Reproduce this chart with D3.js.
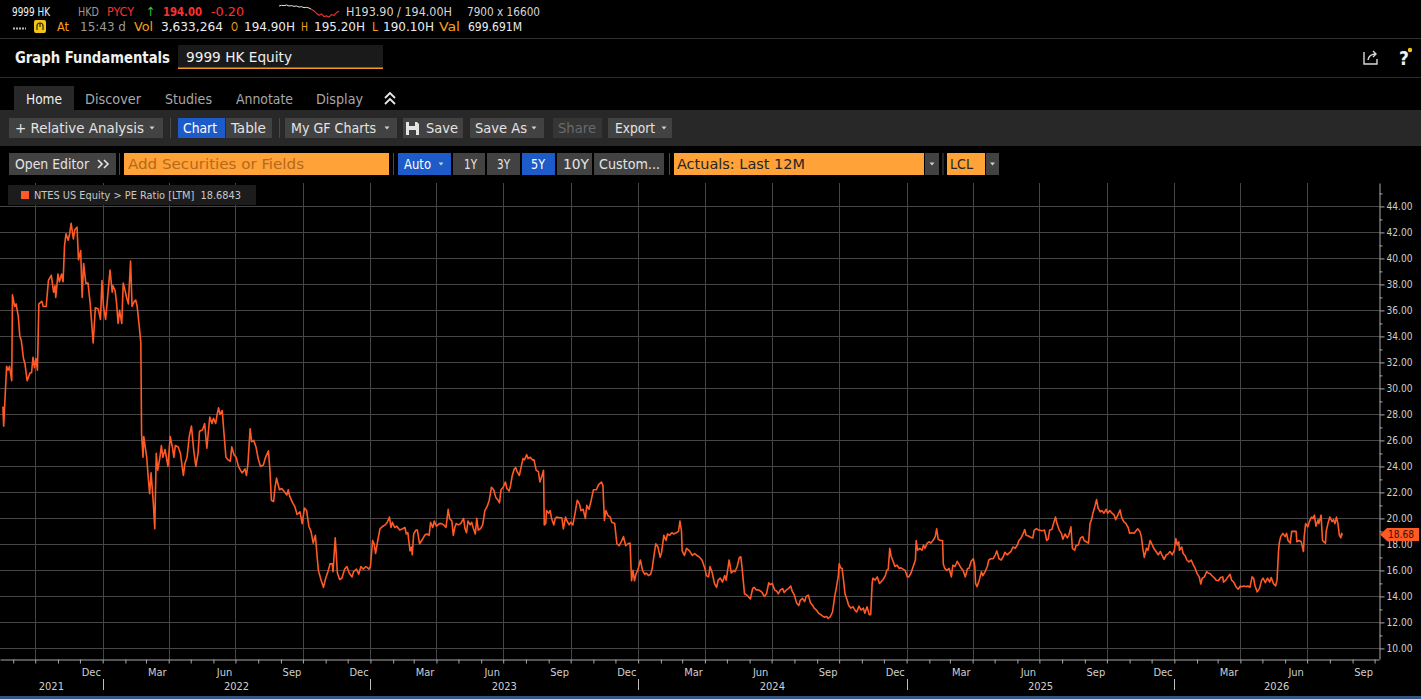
<!DOCTYPE html>
<html>
<head>
<meta charset="utf-8">
<script src="https://cdn.jsdelivr.net/npm/d3@7"></script>
<style>
  html, body { margin: 0; padding: 0; background: #000; overflow: hidden; }
  svg text { font-family: "DejaVu Sans Condensed", "Liberation Sans Narrow", "DejaVu Sans", sans-serif; font-stretch: condensed; white-space: pre; }
</style>
</head>
<body>
<svg id="gf"></svg>
<script>
// PE ratio [LTM], by year
var pe2021 = [["2021-08-18",28.6],["2021-08-19",27.1],["2021-08-23",31.7],["2021-08-25",31.4],["2021-08-27",31.7],["2021-08-30",30.6],["2021-08-31",37.2],["2021-09-03",36.3],["2021-09-05",36.5],["2021-09-08",35.5],["2021-09-10",34.0],["2021-09-12",33.7],["2021-09-15",32.3],["2021-09-17",31.9],["2021-09-20",30.6],["2021-09-24",31.2],["2021-09-26",31.2],["2021-09-28",32.4],["2021-09-30",31.6],["2021-10-02",32.3],["2021-10-04",31.4],["2021-10-06",36.5],["2021-10-10",36.7],["2021-10-12",36.3],["2021-10-16",36.3],["2021-10-19",38.3],["2021-10-23",38.7],["2021-10-26",37.4],["2021-10-28",37.9],["2021-10-29",37.0],["2021-11-01",38.8],["2021-11-03",38.2],["2021-11-06",38.8],["2021-11-08",38.2],["2021-11-10",41.0],["2021-11-12",41.9],["2021-11-15",41.4],["2021-11-17",41.9],["2021-11-19",42.7],["2021-11-22",41.5],["2021-11-24",42.2],["2021-11-27",42.4],["2021-11-29",39.9],["2021-12-02",40.6],["2021-12-04",37.0],["2021-12-06",39.6],["2021-12-09",38.1],["2021-12-12",38.1],["2021-12-15",36.5],["2021-12-19",33.5],["2021-12-22",36.2],["2021-12-26",36.1],["2021-12-29",35.3],["2021-12-31",38.3]];

var pe2022 = [["2022-01-02",36.3],["2022-01-05",35.3],["2022-01-08",37.2],["2022-01-11",39.1],["2022-01-14",37.4],["2022-01-15",37.9],["2022-01-18",37.5],["2022-01-20",36.5],["2022-01-22",35.0],["2022-01-24",36.0],["2022-01-27",35.0],["2022-01-29",38.1],["2022-02-01",37.4],["2022-02-03",36.9],["2022-02-05",36.5],["2022-02-08",39.8],["2022-02-10",36.3],["2022-02-13",36.7],["2022-02-15",36.8],["2022-02-17",36.3],["2022-02-20",34.7],["2022-02-22",33.5],["2022-02-23",26.5],["2022-02-25",24.7],["2022-02-26",26.3],["2022-03-02",24.7],["2022-03-04",23.2],["2022-03-06",21.9],["2022-03-08",23.5],["2022-03-11",21.2],["2022-03-13",19.2],["2022-03-15",25.0],["2022-03-17",23.7],["2022-03-20",24.7],["2022-03-22",25.6],["2022-03-24",24.7],["2022-03-27",25.3],["2022-03-31",24.0],["2022-04-03",26.3],["2022-04-06",25.5],["2022-04-08",24.7],["2022-04-10",25.6],["2022-04-14",25.5],["2022-04-17",25.0],["2022-04-21",23.3],["2022-04-23",24.2],["2022-04-26",24.7],["2022-04-29",26.3],["2022-05-02",27.1],["2022-05-05",25.3],["2022-05-08",24.0],["2022-05-11",25.0],["2022-05-13",26.7],["2022-05-17",26.8],["2022-05-20",27.3],["2022-05-23",25.4],["2022-05-27",27.8],["2022-05-30",27.3],["2022-06-01",27.7],["2022-06-04",27.3],["2022-06-06",28.0],["2022-06-08",28.5],["2022-06-10",28.0],["2022-06-13",28.3],["2022-06-15",26.8],["2022-06-18",24.7],["2022-06-21",24.5],["2022-06-24",24.4],["2022-06-26",25.5],["2022-06-29",24.9],["2022-07-02",24.7],["2022-07-05",24.0],["2022-07-08",23.7],["2022-07-10",23.5],["2022-07-14",23.8],["2022-07-16",23.3],["2022-07-18",24.2],["2022-07-21",26.9],["2022-07-23",25.9],["2022-07-26",26.0],["2022-07-29",25.5],["2022-08-01",24.6],["2022-08-04",24.0],["2022-08-08",24.1],["2022-08-11",24.7],["2022-08-15",25.2],["2022-08-17",23.7],["2022-08-19",21.4],["2022-08-22",21.3],["2022-08-24",22.4],["2022-08-26",23.1],["2022-08-30",22.2],["2022-09-02",22.3],["2022-09-05",22.1],["2022-09-09",21.8],["2022-09-11",22.2],["2022-09-13",21.7],["2022-09-17",21.2],["2022-09-20",20.9],["2022-09-23",20.3],["2022-09-27",20.5],["2022-09-30",19.6],["2022-10-03",20.8],["2022-10-06",20.6],["2022-10-09",19.4],["2022-10-12",19.0],["2022-10-15",18.1],["2022-10-18",18.7],["2022-10-20",17.3],["2022-10-22",16.0],["2022-10-26",15.2],["2022-10-29",14.7],["2022-11-01",15.4],["2022-11-04",15.9],["2022-11-07",16.5],["2022-11-10",16.5],["2022-11-11",15.9],["2022-11-14",18.5],["2022-11-17",15.8],["2022-11-20",15.3],["2022-11-23",15.4],["2022-11-27",16.1],["2022-11-30",16.3],["2022-12-03",15.8],["2022-12-07",15.5],["2022-12-09",15.9],["2022-12-13",16.1],["2022-12-16",15.7],["2022-12-19",16.3],["2022-12-22",16.1],["2022-12-26",16.3],["2022-12-30",16.1]];

var pe2023 = [["2023-01-01",16.3],["2023-01-04",18.3],["2023-01-06",18.05],["2023-01-08",17.3],["2023-01-11",18.3],["2023-01-14",19.2],["2023-01-18",19.4],["2023-01-21",19.5],["2023-01-24",19.7],["2023-01-27",20.1],["2023-01-29",19.3],["2023-01-31",19.7],["2023-02-03",19.3],["2023-02-06",19.4],["2023-02-10",19.1],["2023-02-14",19.2],["2023-02-17",19.3],["2023-02-19",18.8],["2023-02-21",18.9],["2023-02-24",17.5],["2023-02-26",17.8],["2023-02-27",17.2],["2023-03-01",18.8],["2023-03-04",19.1],["2023-03-06",19.1],["2023-03-09",18.05],["2023-03-13",18.4],["2023-03-16",18.7],["2023-03-19",18.8],["2023-03-22",18.7],["2023-03-24",19.7],["2023-03-27",19.3],["2023-03-29",19.8],["2023-04-01",19.4],["2023-04-05",19.6],["2023-04-08",19.6],["2023-04-11",19.5],["2023-04-14",19.3],["2023-04-17",20.7],["2023-04-19",20.0],["2023-04-22",19.8],["2023-04-24",18.7],["2023-04-26",19.3],["2023-04-28",19.6],["2023-05-01",19.5],["2023-05-04",19.6],["2023-05-08",20.0],["2023-05-10",19.2],["2023-05-12",18.9],["2023-05-14",19.8],["2023-05-17",19.5],["2023-05-19",19.7],["2023-05-21",19.3],["2023-05-24",18.8],["2023-05-26",20.0],["2023-05-28",19.1],["2023-05-31",19.2],["2023-06-03",19.5],["2023-06-06",20.6],["2023-06-09",20.9],["2023-06-12",21.4],["2023-06-15",22.4],["2023-06-18",22.2],["2023-06-21",21.6],["2023-06-24",21.4],["2023-06-26",21.2],["2023-06-28",22.2],["2023-07-01",22.4],["2023-07-04",22.8],["2023-07-06",22.3],["2023-07-09",22.1],["2023-07-11",22.5],["2023-07-13",23.2],["2023-07-16",23.8],["2023-07-18",23.9],["2023-07-20",23.6],["2023-07-23",23.3],["2023-07-26",24.1],["2023-07-28",24.6],["2023-07-30",24.5],["2023-08-02",24.9],["2023-08-04",24.6],["2023-08-07",24.7],["2023-08-10",24.5],["2023-08-12",24.5],["2023-08-15",23.7],["2023-08-18",23.6],["2023-08-20",22.8],["2023-08-23",23.3],["2023-08-25",23.7],["2023-08-26",19.5],["2023-08-28",19.6],["2023-08-29",20.6],["2023-09-01",20.4],["2023-09-03",20.6],["2023-09-05",20.0],["2023-09-08",19.5],["2023-09-10",20.0],["2023-09-12",20.1],["2023-09-16",20.05],["2023-09-19",20.05],["2023-09-21",19.2],["2023-09-24",20.1],["2023-09-26",19.8],["2023-09-29",19.5],["2023-10-01",19.7],["2023-10-04",19.5],["2023-10-07",20.4],["2023-10-10",21.4],["2023-10-13",21.1],["2023-10-15",20.6],["2023-10-18",20.7],["2023-10-21",20.0],["2023-10-23",21.0],["2023-10-26",20.7],["2023-10-29",21.4],["2023-11-01",22.2],["2023-11-05",22.2],["2023-11-08",22.6],["2023-11-12",22.8],["2023-11-14",22.5],["2023-11-16",19.85],["2023-11-18",20.6],["2023-11-21",20.2],["2023-11-24",20.1],["2023-11-26",19.7],["2023-11-30",19.6],["2023-12-03",18.05],["2023-12-06",17.9],["2023-12-09",18.2],["2023-12-12",18.6],["2023-12-15",17.9],["2023-12-18",18.05],["2023-12-21",18.1],["2023-12-23",15.2],["2023-12-25",16.0],["2023-12-27",15.2],["2023-12-29",15.7]];

var pe2024 = [["2024-01-01",16.1],["2024-01-04",16.8],["2024-01-07",16.0],["2024-01-10",15.7],["2024-01-12",15.8],["2024-01-15",15.6],["2024-01-18",15.7],["2024-01-20",16.1],["2024-01-23",17.3],["2024-01-25",18.05],["2024-01-28",17.8],["2024-01-31",17.0],["2024-02-02",17.4],["2024-02-05",18.7],["2024-02-08",18.3],["2024-02-10",18.8],["2024-02-13",18.7],["2024-02-16",18.9],["2024-02-18",18.8],["2024-02-22",18.9],["2024-02-25",19.0],["2024-02-27",19.8],["2024-02-29",19.05],["2024-03-01",17.5],["2024-03-04",17.15],["2024-03-07",17.7],["2024-03-11",17.5],["2024-03-15",17.15],["2024-03-18",17.3],["2024-03-21",17.15],["2024-03-24",17.05],["2024-03-28",16.8],["2024-04-01",16.15],["2024-04-03",15.6],["2024-04-06",15.5],["2024-04-08",16.3],["2024-04-11",15.8],["2024-04-14",15.0],["2024-04-17",14.7],["2024-04-19",15.25],["2024-04-22",15.4],["2024-04-25",15.1],["2024-04-28",15.6],["2024-04-30",15.25],["2024-05-04",16.8],["2024-05-07",15.8],["2024-05-10",16.0],["2024-05-12",15.9],["2024-05-15",16.3],["2024-05-18",17.0],["2024-05-20",17.05],["2024-05-22",16.0],["2024-05-25",14.2],["2024-05-28",14.1],["2024-05-30",14.0],["2024-06-02",13.8],["2024-06-05",14.6],["2024-06-07",14.7],["2024-06-10",14.5],["2024-06-13",14.5],["2024-06-16",14.4],["2024-06-18",14.3],["2024-06-21",14.0],["2024-06-24",14.2],["2024-06-27",15.05],["2024-06-29",14.9],["2024-07-02",15.0],["2024-07-05",14.5],["2024-07-08",14.4],["2024-07-10",14.2],["2024-07-13",14.5],["2024-07-16",14.6],["2024-07-18",14.3],["2024-07-21",14.5],["2024-07-24",14.6],["2024-07-27",14.8],["2024-07-29",14.4],["2024-08-01",14.1],["2024-08-04",13.5],["2024-08-07",13.3],["2024-08-09",13.7],["2024-08-12",13.85],["2024-08-15",13.6],["2024-08-17",14.0],["2024-08-20",14.1],["2024-08-23",13.5],["2024-08-26",13.3],["2024-08-28",13.1],["2024-08-31",12.95],["2024-09-03",12.7],["2024-09-06",12.6],["2024-09-08",12.5],["2024-09-11",12.4],["2024-09-14",12.45],["2024-09-16",12.3],["2024-09-19",12.45],["2024-09-22",12.8],["2024-09-25",14.0],["2024-09-27",14.6],["2024-09-30",15.6],["2024-10-01",16.5],["2024-10-03",16.2],["2024-10-05",16.15],["2024-10-07",15.25],["2024-10-09",14.2],["2024-10-12",13.7],["2024-10-14",13.3],["2024-10-17",13.1],["2024-10-20",13.2],["2024-10-23",12.9],["2024-10-25",12.8],["2024-10-28",13.25],["2024-10-31",12.95],["2024-11-03",13.1],["2024-11-05",12.7],["2024-11-08",13.2],["2024-11-11",12.6],["2024-11-13",12.6],["2024-11-15",15.0],["2024-11-16",15.4],["2024-11-19",15.25],["2024-11-22",15.5],["2024-11-25",15.0],["2024-11-27",15.1],["2024-11-30",15.3],["2024-12-03",15.6],["2024-12-05",16.0],["2024-12-07",16.1],["2024-12-09",17.7],["2024-12-11",17.05],["2024-12-13",16.8],["2024-12-16",16.3],["2024-12-19",16.4],["2024-12-22",16.15],["2024-12-24",16.2],["2024-12-27",16.1],["2024-12-30",16.0]];

var pe2025 = [["2025-01-02",15.5],["2025-01-04",15.5],["2025-01-07",15.8],["2025-01-10",16.3],["2025-01-13",16.8],["2025-01-14",18.3],["2025-01-16",17.55],["2025-01-19",17.7],["2025-01-22",17.55],["2025-01-24",17.95],["2025-01-26",17.7],["2025-01-29",18.1],["2025-02-01",18.2],["2025-02-03",18.1],["2025-02-06",18.3],["2025-02-09",18.6],["2025-02-11",19.2],["2025-02-13",18.4],["2025-02-16",18.3],["2025-02-19",18.3],["2025-02-20",16.5],["2025-02-22",16.15],["2025-02-25",16.0],["2025-02-28",16.15],["2025-03-03",15.5],["2025-03-05",16.4],["2025-03-08",16.3],["2025-03-11",16.7],["2025-03-14",16.4],["2025-03-16",16.2],["2025-03-19",16.0],["2025-03-22",15.5],["2025-03-25",16.15],["2025-03-27",16.15],["2025-03-30",16.7],["2025-04-02",16.9],["2025-04-04",16.3],["2025-04-05",15.0],["2025-04-07",14.75],["2025-04-10",15.25],["2025-04-13",15.9],["2025-04-15",15.6],["2025-04-18",15.9],["2025-04-21",16.3],["2025-04-23",16.8],["2025-04-26",16.9],["2025-04-29",16.9],["2025-05-02",17.2],["2025-05-04",17.5],["2025-05-07",16.9],["2025-05-10",16.8],["2025-05-13",17.1],["2025-05-15",17.4],["2025-05-18",17.2],["2025-05-21",17.35],["2025-05-23",17.45],["2025-05-26",17.8],["2025-05-29",17.7],["2025-06-01",17.95],["2025-06-03",18.3],["2025-06-06",18.5],["2025-06-09",18.85],["2025-06-11",19.15],["2025-06-13",18.7],["2025-06-16",18.65],["2025-06-19",18.55],["2025-06-22",18.5],["2025-06-24",19.1],["2025-06-27",19.2],["2025-06-30",19.1],["2025-07-05",19.05],["2025-07-08",19.1],["2025-07-11",18.3],["2025-07-13",18.4],["2025-07-15",19.1],["2025-07-18",19.15],["2025-07-21",19.75],["2025-07-23",20.1],["2025-07-25",19.6],["2025-07-28",19.1],["2025-07-31",18.85],["2025-08-02",18.4],["2025-08-05",18.8],["2025-08-08",18.5],["2025-08-10",18.7],["2025-08-13",19.35],["2025-08-15",17.7],["2025-08-18",17.55],["2025-08-20",17.9],["2025-08-23",17.95],["2025-08-26",18.5],["2025-08-29",18.6],["2025-08-31",18.3],["2025-09-03",18.2],["2025-09-06",18.1],["2025-09-08",19.6],["2025-09-10",19.9],["2025-09-12",20.4],["2025-09-15",21.0],["2025-09-17",21.45],["2025-09-19",20.8],["2025-09-22",20.5],["2025-09-24",20.6],["2025-09-27",20.4],["2025-09-30",20.7],["2025-10-02",20.4],["2025-10-05",20.6],["2025-10-08",20.4],["2025-10-11",20.25],["2025-10-13",19.9],["2025-10-16",20.25],["2025-10-19",20.65],["2025-10-21",20.1],["2025-10-24",19.75],["2025-10-27",19.6],["2025-10-30",19.3],["2025-11-01",18.85],["2025-11-04",18.9],["2025-11-07",18.85],["2025-11-09",19.0],["2025-11-12",19.2],["2025-11-15",19.0],["2025-11-17",18.6],["2025-11-19",17.7],["2025-11-21",17.0],["2025-11-24",17.7],["2025-11-26",17.55],["2025-11-29",18.3],["2025-12-02",17.95],["2025-12-04",17.7],["2025-12-07",17.45],["2025-12-10",17.2],["2025-12-13",17.45],["2025-12-15",17.2],["2025-12-18",16.85],["2025-12-21",17.2],["2025-12-23",17.25],["2025-12-26",17.45],["2025-12-29",17.2]];

var pe2026 = [["2026-01-01",17.55],["2026-01-03",18.45],["2026-01-05",17.95],["2026-01-07",18.2],["2026-01-08",17.55],["2026-01-11",17.8],["2026-01-13",17.3],["2026-01-16",17.1],["2026-01-18",16.8],["2026-01-21",16.65],["2026-01-24",16.8],["2026-01-27",16.4],["2026-01-29",16.2],["2026-02-01",15.75],["2026-02-04",15.5],["2026-02-06",14.95],["2026-02-08",15.4],["2026-02-11",15.5],["2026-02-14",15.9],["2026-02-16",15.8],["2026-02-19",15.75],["2026-02-22",15.55],["2026-02-25",15.4],["2026-02-27",15.25],["2026-03-02",15.2],["2026-03-05",15.45],["2026-03-08",15.5],["2026-03-09",15.1],["2026-03-12",15.25],["2026-03-15",15.5],["2026-03-18",15.7],["2026-03-20",15.25],["2026-03-23",15.1],["2026-03-26",14.75],["2026-03-29",14.55],["2026-04-01",14.8],["2026-04-03",14.75],["2026-04-06",14.8],["2026-04-09",14.75],["2026-04-11",14.8],["2026-04-14",14.7],["2026-04-17",15.5],["2026-04-19",15.4],["2026-04-21",14.8],["2026-04-24",14.35],["2026-04-27",14.6],["2026-04-30",15.25],["2026-05-02",15.4],["2026-05-05",15.05],["2026-05-08",15.4],["2026-05-11",15.1],["2026-05-13",15.45],["2026-05-16",15.0],["2026-05-19",14.8],["2026-05-21",15.25],["2026-05-23",17.45],["2026-05-24",18.1],["2026-05-26",18.6],["2026-05-29",18.85],["2026-06-01",18.6],["2026-06-03",18.85],["2026-06-05",18.3],["2026-06-08",18.1],["2026-06-10",19.0],["2026-06-13",19.0],["2026-06-16",19.0],["2026-06-17",18.2],["2026-06-20",18.3],["2026-06-23",18.2],["2026-06-26",17.45],["2026-06-27",18.6],["2026-06-29",19.6],["2026-07-02",19.35],["2026-07-04",19.75],["2026-07-07",20.1],["2026-07-09",20.0],["2026-07-11",20.25],["2026-07-13",19.4],["2026-07-16",19.9],["2026-07-17",19.6],["2026-07-20",20.25],["2026-07-22",18.3],["2026-07-24",18.2],["2026-07-26",18.1],["2026-07-27",19.0],["2026-07-30",19.75],["2026-08-01",20.1],["2026-08-04",19.75],["2026-08-06",19.9],["2026-08-08",19.6],["2026-08-10",20.1],["2026-08-12",19.6],["2026-08-14",18.7],["2026-08-16",18.5],["2026-08-17",18.85],["2026-08-18",18.6843]];

var yTicks = [10, 12, 14, 16, 18, 20, 22, 24, 26, 28, 30, 32, 34, 36, 38, 40, 42, 44];
var yMinorTicks = [11, 13, 15, 17, 19, 21, 23, 25, 27, 29, 31, 33, 35, 37, 39, 41, 43, 45];
var seriesName = "NTES US Equity > PE Ratio [LTM]";

// intraday price trail in the quote header (prev close 194.20)
var prevClose = 194.20;
var sparkPrices = [194.9, 195.1, 195.0, 195.2, 194.9, 195.0, 194.8, 194.9, 194.6, 194.7, 194.4, 194.5, 194.3, 193.9, 193.4, 192.7, 192.1, 192.5, 191.7, 191.9, 191.6, 192.3, 192.1, 192.9, 193.4];

var W = 1421, H = 699;
var plotL = 0, plotR = 1379, plotT = 183, plotB = 659;

var C = {
  white: "#f0f0f0", grey: "#9a9a9a", red: "#ff3030", orange: "#f5a01c", green: "#34c534",
  btn: "#424242", band: "#282828", blue: "#1d5bc8", field: "#ffa238",
  grid: "#464646", axis: "#a8a8a8", tick: "#cfcfcf", line: "#ff5a26"
};

var svg = d3.select("#gf").attr("width", W).attr("height", H);
svg.append("rect").attr("width", W).attr("height", H).attr("fill", "#000");

function label(g, s, x, y, o) {
  o = o || {};
  var t = g.append("text")
    .attr("x", x).attr("y", y)
    .attr("fill", o.fill || C.white)
    .attr("font-size", o.size || 14)
    .text(s);
  if (o.w) t.attr("textLength", o.w).attr("lengthAdjust", "spacingAndGlyphs");
  if (o.bold) t.attr("font-weight", "bold");
  if (o.anchor) t.attr("text-anchor", o.anchor);
  return t;
}

function caret(g, cx, cy, fill) {
  g.append("path")
    .attr("d", "M" + (cx - 2.5) + "," + (cy - 1.5) + "h5l-2.5,3z")
    .attr("fill", fill || "#cfcfcf");
}

// ---------- quote header ----------
var hdr = svg.append("g");
var row1 = [
  ["9999 HK", 12, 38, C.white], ["HKD", 78, 21, C.grey], ["PYCY", 107, 27, C.red],
  ["↑", 146, 0, C.green], ["194.00", 163, 39, C.red, true], ["-0.20", 211, 33, C.red],
  ["H193.90 / 194.00H", 346, 106, "#d6d6d6"], ["7900 x 16600", 467, 73, "#d6d6d6"]
];
row1.forEach(function(r) {
  label(hdr, r[0], r[1], 16, {w: r[2], fill: r[3], size: 12.5, bold: r[4]});
});
var row2 = [
  ["At", 57, 12, C.orange], ["15:43 d", 80, 46, C.grey], ["Vol", 134, 19, C.orange],
  ["3,633,264", 161, 62, "#ececec"], ["O", 231, 7, C.orange], ["194.90H", 244, 51, "#ececec"],
  ["H", 301, 7, C.orange], ["195.20H", 314, 51, "#ececec"], ["L", 372, 6, C.orange],
  ["190.10H", 383, 51, "#ececec"], ["Val", 439, 21, C.orange], ["699.691M", 468, 54, "#ececec"]
];
row2.forEach(function(r) {
  label(hdr, r[0], r[1], 31, {w: r[2], fill: r[3], size: 12.5});
});
hdr.append("line").attr("x1", 13).attr("x2", 26).attr("y1", 28.5).attr("y2", 28.5)
  .attr("stroke", "#bbb").attr("stroke-width", 2).attr("stroke-dasharray", "2,1");
hdr.append("rect").attr("x", 34).attr("y", 20).attr("width", 12).attr("height", 13).attr("rx", 2).attr("fill", "#f0c419");
hdr.append("path").attr("d", "M37,30v-4a3,3 0 0 1 6,0v4M40,23v4").attr("stroke", "#3a2a00").attr("fill", "none").attr("stroke-width", 1.2);

var sx = d3.scaleLinear().domain([0, sparkPrices.length - 1]).range([279, 339]);
var sy = d3.scaleLinear().domain(d3.extent(sparkPrices)).range([17, 5]);
var split = sparkPrices.findIndex(function(p) { return p < prevClose; });
var sparkLine = d3.line().x(function(d) { return sx(d.i); }).y(function(d) { return sy(d.p); });
var sparkPts = sparkPrices.map(function(p, i) { return {p: p, i: i}; });
hdr.append("path").attr("d", sparkLine(sparkPts.slice(0, split + 1)))
  .attr("fill", "none").attr("stroke", "#e8e8e8").attr("stroke-width", 1);
hdr.append("path").attr("d", sparkLine(sparkPts.slice(split)))
  .attr("fill", "none").attr("stroke", "#e03030").attr("stroke-width", 1.2);

hdr.append("line").attr("x1", 0).attr("x2", W).attr("y1", 38.5).attr("y2", 38.5).attr("stroke", "#303030");

// ---------- title bar ----------
var bar = svg.append("g");
label(bar, "Graph Fundamentals", 15, 63, {w: 155, bold: true, size: 15});
bar.append("rect").attr("x", 178).attr("y", 45).attr("width", 205).attr("height", 24).attr("fill", "#1a1a1a");
bar.append("rect").attr("x", 178).attr("y", 67.5).attr("width", 205).attr("height", 1.5).attr("fill", "#f59a22");
label(bar, "9999 HK Equity", 186, 62, {w: 106, size: 14.5});

// share + help icons
bar.append("path").attr("d", "M1364,52v12h13v-5M1368,60q1,-6 8,-6M1373,51l3,3l-3,3")
  .attr("fill", "none").attr("stroke", "#d8d8d8").attr("stroke-width", 1.4);
label(bar, "?", 1399, 65, {size: 19, bold: true, fill: "#f0f0f0"});
bar.append("circle").attr("cx", 1410).attr("cy", 50).attr("r", 2.2).attr("fill", "#f5c518");

bar.append("line").attr("x1", 0).attr("x2", W).attr("y1", 77.5).attr("y2", 77.5).attr("stroke", "#2a2a2a");

// ---------- tabs ----------
var tabs = svg.append("g");
tabs.append("rect").attr("x", 0).attr("y", 110).attr("width", W).attr("height", 36).attr("fill", C.band);
tabs.append("rect").attr("x", 14).attr("y", 86).attr("width", 60).attr("height", 25).attr("fill", C.band);
[["Home", 26, 36, C.white], ["Discover", 85, 56, "#a8a8a8"], ["Studies", 165, 47, "#a8a8a8"],
 ["Annotate", 236, 57, "#a8a8a8"], ["Display", 316, 47, "#a8a8a8"]].forEach(function(t) {
  label(tabs, t[0], t[1], 104, {w: t[2], fill: t[3], size: 14.5});
});
tabs.append("path").attr("d", "M385,98l5,-5l5,5M385,104l5,-5l5,5")
  .attr("fill", "none").attr("stroke", "#e8e8e8").attr("stroke-width", 1.8);

// ---------- toolbar rows ----------
function button(g, b, y, h, base) {
  g.append("rect").attr("x", b.x).attr("y", y).attr("width", b.w).attr("height", h).attr("fill", b.fill || C.btn);
  if (b.text) label(g, b.text, b.tx, base, {w: b.tw, fill: b.color || "#e4e4e4", size: 14.5});
  if (b.caret) caret(g, b.caret, y + h / 2, b.caretFill);
}
var tb = svg.append("g");
[
  {x: 9, w: 154, text: "+ Relative Analysis", tx: 15, tw: 129, caret: 152},
  {x: 178, w: 47, text: "Chart", tx: 183, tw: 34, fill: C.blue, color: "#fff"},
  {x: 226, w: 46, text: "Table", tx: 231, tw: 35},
  {x: 285, w: 112, text: "My GF Charts", tx: 291, tw: 85, caret: 387},
  {x: 403, w: 60, text: "Save", tx: 426, tw: 32},
  {x: 470, w: 74, text: "Save As", tx: 475, tw: 52, caret: 534},
  {x: 553, w: 49, text: "Share", tx: 558, tw: 38, fill: "#353535", color: "#6a6a6a"},
  {x: 608, w: 64, text: "Export", tx: 615, tw: 40, caret: 664}
].forEach(function(b) { button(tb, b, 118, 20, 133); });
tb.append("path").attr("d", "M406,122h11l2,2v11h-13z").attr("fill", "#e4e4e4");
tb.append("rect").attr("x", 409).attr("y", 122).attr("width", 6).attr("height", 4).attr("fill", C.btn);
tb.append("rect").attr("x", 409).attr("y", 130).attr("width", 7).attr("height", 5).attr("fill", C.btn);
[170.5, 279.5].forEach(function(sxp) {
  tb.append("line").attr("x1", sxp).attr("x2", sxp).attr("y1", 118).attr("y2", 138).attr("stroke", "#4a4a4a");
});

var r3 = svg.append("g");
[
  {x: 9, w: 107, text: "Open Editor", tx: 15, tw: 74},
  {x: 124, w: 265, text: "Add Securities or Fields", tx: 128, tw: 176, fill: C.field, color: "#b4691c"},
  {x: 398, w: 53, text: "Auto", tx: 404, tw: 27, fill: C.blue, color: "#fff", caret: 441},
  {x: 453, w: 32, text: "1Y", tx: 464, tw: 13},
  {x: 487, w: 33, text: "3Y", tx: 497, tw: 13},
  {x: 522, w: 33, text: "5Y", tx: 531, tw: 14, fill: C.blue, color: "#fff"},
  {x: 557, w: 35, text: "10Y", tx: 563, tw: 26},
  {x: 594, w: 70, text: "Custom...", tx: 599, tw: 61},
  {x: 674, w: 250, text: "Actuals: Last 12M", tx: 677, tw: 128, fill: C.field, color: "#262626"},
  {x: 925, w: 14, caret: 932},
  {x: 947, w: 38, text: "LCL", tx: 950, tw: 23, fill: C.field, color: "#262626"},
  {x: 986, w: 13, caret: 992.5}
].forEach(function(b) { button(r3, b, 153, 22, 169); });
r3.append("path").attr("d", "M98,160l4,4l-4,4M104,160l4,4l-4,4")
  .attr("fill", "none").attr("stroke", "#e4e4e4").attr("stroke-width", 1.6);
[119.5, 393.5, 669.5, 943].forEach(function(sxp) {
  r3.append("line").attr("x1", sxp).attr("x2", sxp).attr("y1", 153).attr("y2", 175).attr("stroke", "#4a4a4a");
});

// ---------- chart ----------
var parse = d3.timeParse("%Y-%m-%d");
var series = [].concat(pe2021, pe2022, pe2023, pe2024, pe2025, pe2026).map(function(d) {
  return {date: parse(d[0]), value: d[1]};
});

var x = d3.scaleTime()
  .domain([new Date(2021, 7, 14), new Date(2026, 9, 7)])
  .range([plotL, plotR]);
var y = d3.scaleLinear()
  .domain([9.185, 45.8])
  .range([plotB, plotT]);

var chart = svg.append("g");

// grid
chart.selectAll(".hgrid").data(yTicks).enter().append("line")
  .attr("x1", plotL).attr("x2", plotR)
  .attr("y1", function(d) { return Math.round(y(d)) + 0.5; })
  .attr("y2", function(d) { return Math.round(y(d)) + 0.5; })
  .attr("stroke", C.grid);

var quarters = x.ticks(d3.timeMonth.every(3)).filter(function(d) { return x(d) < plotR - 8; });
chart.selectAll(".vgrid").data(quarters).enter().append("line")
  .attr("x1", function(d) { return Math.round(x(d)) + 0.5; })
  .attr("x2", function(d) { return Math.round(x(d)) + 0.5; })
  .attr("y1", plotT).attr("y2", plotB)
  .attr("stroke", C.grid);

// legend
var leg = chart.append("g");
leg.append("rect").attr("x", 8).attr("y", 185).attr("width", 248).attr("height", 20).attr("fill", "#1c1c1c");
leg.append("rect").attr("x", 21).attr("y", 191).attr("width", 8).attr("height", 8).attr("fill", C.line);
var last = series[series.length - 1];
label(leg, seriesName + "  " + d3.format(".4f")(last.value), 34, 198.5, {w: 207, fill: "#c8c8c8", size: 11});

// series line
svg.append("clipPath").attr("id", "plotclip").append("rect")
  .attr("x", plotL).attr("y", plotT).attr("width", plotR - plotL).attr("height", plotB - plotT);
chart.append("path")
  .datum(series)
  .attr("clip-path", "url(#plotclip)")
  .attr("fill", "none")
  .attr("stroke", C.line)
  .attr("stroke-width", 1.6)
  .attr("stroke-linejoin", "round")
  .attr("d", d3.line().x(function(d) { return x(d.date); }).y(function(d) { return y(d.value); }));

// right value axis
var yAxis = chart.append("g")
  .attr("transform", "translate(" + (plotR + 0.5) + ",0)")
  .call(d3.axisRight(y).tickValues(yTicks).tickFormat(d3.format(".2f")).tickSize(5).tickSizeOuter(0).tickPadding(2));
yAxis.select(".domain").attr("stroke", C.axis);
yAxis.selectAll(".tick line").attr("stroke", C.axis);
yAxis.selectAll(".tick text").attr("fill", C.tick).attr("font-size", 10.5)
  .attr("textLength", 26).attr("lengthAdjust", "spacingAndGlyphs")
  .attr("font-family", null);
var yMinor = chart.append("g")
  .attr("transform", "translate(" + (plotR + 0.5) + ",0)")
  .call(d3.axisRight(y).tickValues(yMinorTicks.filter(function(v) { return y(v) > plotT; })).tickFormat("").tickSize(3).tickSizeOuter(0));
yMinor.select(".domain").remove();
yMinor.selectAll(".tick line").attr("stroke", C.axis);

// last value tag, drawn over the axis labels as in the terminal
var ty = y(last.value) - 1;
chart.append("path")
  .attr("d", "M" + (plotR + 1) + "," + ty + "L" + (plotR + 8) + "," + (ty - 6.5) + "H1419V" + (ty + 6.5) + "H" + (plotR + 8) + "Z")
  .attr("fill", C.line);
label(chart, d3.format(".2f")(last.value), plotR + 9, ty + 3.5, {w: 26, fill: "#3a1200", size: 10});

// time axis
var xAxis = chart.append("g")
  .attr("transform", "translate(0," + (plotB + 0.5) + ")")
  .call(d3.axisBottom(x).ticks(d3.timeMonth.every(1)).tickFormat("").tickSize(4).tickSizeOuter(0));
xAxis.select(".domain").attr("stroke", C.axis);
xAxis.selectAll(".tick line").attr("stroke", C.axis);

var fmtMonth = d3.timeFormat("%b");
var labelQuarters = quarters.concat([d3.timeMonth.offset(quarters[quarters.length - 1], 3)]);
var monthLabels = labelQuarters.map(function(q) {
  var m = d3.timeMonth.offset(q, -1);
  return {text: fmtMonth(m), x: x(new Date((+m + +q) / 2))};
}).filter(function(d) { return d.x > 40 && d.x < plotR; });

chart.selectAll(".mlab").data(monthLabels).enter().append("text")
  .attr("x", function(d) { return d.x; })
  .attr("y", 676)
  .attr("text-anchor", "middle")
  .attr("fill", C.tick)
  .attr("font-size", 11)
  .text(function(d) { return d.text; });

var dom = x.domain();
var years = d3.timeYear.range(d3.timeYear.floor(dom[0]), dom[1]);
var yearLabels = years.map(function(yr) {
  var a = Math.max(+yr, +dom[0]), b = Math.min(+d3.timeYear.offset(yr, 1), +dom[1]);
  return {text: d3.timeFormat("%Y")(yr), x: (x(new Date(a)) + x(new Date(b))) / 2};
});
chart.selectAll(".ylab").data(yearLabels).enter().append("text")
  .attr("x", function(d) { return d.x; })
  .attr("y", 690)
  .attr("text-anchor", "middle")
  .attr("fill", C.tick)
  .attr("font-size", 11)
  .text(function(d) { return d.text; });

var yearStarts = years.filter(function(yr) { return yr > dom[0]; });
chart.selectAll(".ysep").data(yearStarts).enter().append("line")
  .attr("x1", function(d) { return Math.round(x(d)) + 0.5; })
  .attr("x2", function(d) { return Math.round(x(d)) + 0.5; })
  .attr("y1", 679).attr("y2", 690)
  .attr("stroke", "#bdbdbd");

// status strip at the bottom
svg.append("rect").attr("x", 0).attr("y", 696).attr("width", W).attr("height", 3).attr("fill", "#34557f");
</script>
</body>
</html>
